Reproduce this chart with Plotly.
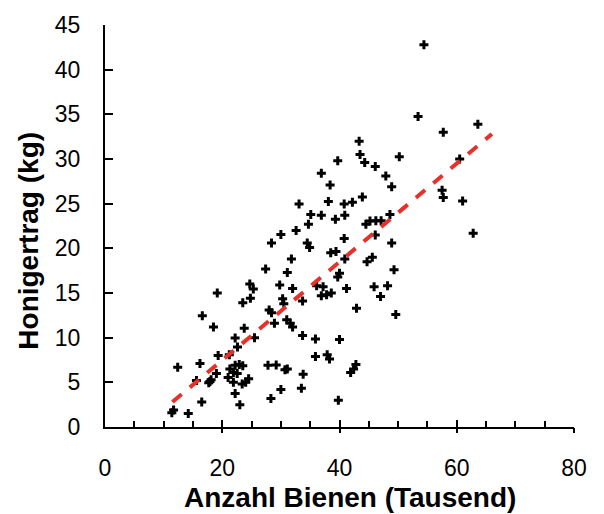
import plotly.graph_objects as go

# Anzahl Bienen (Tausend) vs. Honigertrag (kg)
bees = [
    11.4, 11.7, 14.2, 16.5, 12.4, 16.2, 15.6, 17.9, 18.1, 17.7, 19.0, 19.3, 21.2,
    16.6, 18.5, 19.15, 22.2, 23.75, 22.6, 23.5, 24.8, 24.7, 25.3, 25.5,
    21.3, 22.2, 22.9, 21.9, 22.55, 23.5, 21.0, 21.9,
    23.4, 24.0, 24.5, 22.2, 23.0,
    27.4, 28.0, 28.4, 28.9, 29.8, 31.1, 31.8, 30.3, 30.5, 32.0,
    31.0, 31.6, 32.0, 27.8, 29.2, 30.7, 31.1, 28.3, 30.0, 33.5, 33.8,
    33.7, 36.9, 37.8, 38.6, 36.1, 37.2, 41.2, 33.7, 35.9, 40.0, 35.9, 37.9, 38.3,
    42.8, 42.4, 41.9, 39.8, 42.9, 47.0, 49.6, 45.9, 48.2, 49.3, 44.7, 45.6,
    40.0, 39.7, 40.9, 38.5, 39.4, 34.5, 34.9, 28.4, 30.0, 32.6, 34.7, 35.1,
    36.9, 39.3, 40.9, 40.8, 33.1, 38.1, 40.8, 42.2, 43.9, 36.9, 38.4, 39.7,
    43.35, 43.5, 44.3, 46.1, 47.9, 48.9, 50.2, 44.5, 45.2, 46.2, 47.1, 48.6,
    46.1, 48.9, 53.4, 54.4, 57.7, 63.6, 60.5, 57.5, 57.7, 61.0, 62.8,
]
honey = [
    1.6, 1.9, 1.5, 2.8, 6.7, 7.1, 5.2, 5.1, 5.3, 4.95, 6.0, 8.0, 8.1,
    12.45, 11.2, 15.0, 9.95, 11.05, 8.95, 13.9, 14.4, 16.0, 15.45, 10.0,
    6.5, 6.9, 7.0, 6.1, 6.0, 6.85, 5.55, 5.0,
    4.8, 5.0, 5.4, 3.75, 2.5,
    17.7, 13.1, 12.8, 11.6, 15.9, 17.3, 18.8, 14.35, 13.8, 15.5,
    12.0, 11.6, 11.2, 6.9, 6.95, 6.4, 6.5, 3.2, 4.2, 4.35, 5.9,
    14.1, 14.7, 14.8, 15.0, 15.8, 15.7, 15.5, 10.25, 9.85, 9.8, 7.9, 8.1, 7.6,
    7.0, 6.5, 6.1, 3.0, 13.3, 14.6, 12.6, 15.7, 15.8, 17.6, 18.5, 19.0,
    17.2, 16.8, 18.8, 19.5, 19.65, 20.6, 20.1, 20.6, 21.55, 22.0, 22.7, 23.8,
    23.7, 23.25, 23.7, 21.1, 24.95, 25.25, 24.95, 25.15, 25.75, 28.4, 27.1, 29.8,
    32.0, 30.5, 29.6, 29.15, 28.1, 26.9, 30.25, 22.7, 23.05, 23.1, 23.1, 23.8,
    21.5, 20.6, 34.75, 42.8, 33.0, 33.9, 30.0, 26.5, 25.7, 25.3, 21.7,
]

# Regression line (end points)
trend_x = [11.5, 66.0]
trend_y = [2.8, 32.8]

x_title = "Anzahl Bienen (Tausend)"
y_title = "Honigertrag (kg)"
x_ticks = [0, 20, 40, 60, 80]
y_ticks = [0, 5, 10, 15, 20, 25, 30, 35, 40, 45]

FONT = "Liberation Sans, Arial, sans-serif"

fig = go.Figure()
fig.add_trace(go.Scatter(
    x=bees, y=honey, mode="markers",
    marker=dict(symbol="cross", size=7.5, color="black", line=dict(width=0)),
    showlegend=False, cliponaxis=False,
))
fig.add_trace(go.Scatter(
    x=trend_x, y=trend_y, mode="lines",
    line=dict(color="#E8302A", width=4, dash="12px,10.7px"),
    showlegend=False,
))
# invisible trace on overlay axis to carry the outer parts of the major ticks
fig.add_trace(go.Scatter(x=[0, 80], y=[0, 0], xaxis="x2", mode="markers",
                         marker=dict(opacity=0), showlegend=False, hoverinfo="skip"))

W, H = 604, 514
L, R, T, B = 105, 30, 17, 87
pw = W - L - R
ph = H - T - B

fig.update_layout(
    width=W, height=H,
    margin=dict(l=L, r=R, t=T, b=B, pad=0),
    paper_bgcolor="white", plot_bgcolor="white",
    font=dict(family=FONT, color="black"),
    xaxis=dict(
        range=[0, 80], tickvals=x_ticks, ticktext=[str(v) for v in x_ticks],
        showline=True, linecolor="black", linewidth=2,
        ticks="inside", ticklen=7, tickwidth=2, tickcolor="black",
        minor=dict(dtick=5, ticks="inside", ticklen=6, tickwidth=2, tickcolor="black"),
        showgrid=False, zeroline=False,
        tickfont=dict(size=23, family=FONT), ticklabelstandoff=19,
    ),
    xaxis2=dict(
        range=[0, 80], overlaying="x", side="bottom", anchor="y",
        tickvals=[20, 40, 60, 80], showticklabels=False,
        ticks="outside", ticklen=5, tickwidth=2, tickcolor="black",
        showline=False, showgrid=False, zeroline=False,
    ),
    yaxis=dict(
        range=[0, 45], tickvals=y_ticks, ticktext=[str(v) for v in y_ticks],
        showline=True, linecolor="black", linewidth=2,
        ticks="inside", ticklen=8, tickwidth=2, tickcolor="black",
        showgrid=False, zeroline=False,
        tickfont=dict(size=23, family=FONT), ticklabelstandoff=18,
    ),
    annotations=[
        dict(text="<b>" + x_title + "</b>", xref="paper", yref="paper",
             x=(349.5 - L) / pw, y=(H - B - 499) / ph,
             xanchor="center", yanchor="middle", showarrow=False,
             font=dict(size=28, family=FONT, color="black")),
        dict(text="<b>" + y_title + "</b>", xref="paper", yref="paper",
             x=(28.5 - L) / pw, y=(H - B - 237.5) / ph, textangle=-90,
             xanchor="center", yanchor="middle", showarrow=False,
             font=dict(size=28, family=FONT, color="black")),
    ],
)

fig.write_html("out.html")
